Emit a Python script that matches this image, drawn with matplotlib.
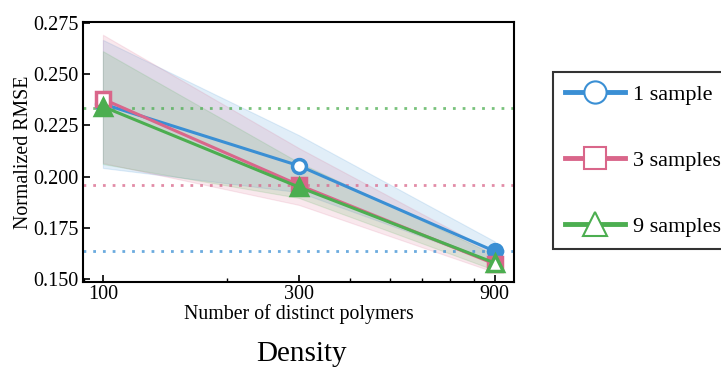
import numpy as np
import matplotlib.pyplot as plt

plt.rcParams['font.family'] = ['Liberation Serif', 'DejaVu Serif']
plt.rcParams['mathtext.fontset'] = 'stix'

# data
n_polymers = [100, 300, 900]
labels = ['1 sample', '3 samples', '9 samples']
colors = ['#3a8fd4', '#d9668a', '#4cae50']
markers = ['o', 's', '^']

mean_1 = [0.2355, 0.2054, 0.1637]
mean_3 = [0.2379, 0.1960, 0.1575]
mean_9 = [0.2342, 0.1950, 0.1580]

lo_1 = [0.2043, 0.1925, 0.1580]
hi_1 = [0.2667, 0.2203, 0.1685]
lo_3 = [0.2067, 0.1863, 0.1535]
hi_3 = [0.2692, 0.2140, 0.1630]
lo_9 = [0.2062, 0.1897, 0.1545]
hi_9 = [0.2612, 0.2070, 0.1620]

# which points are drawn hollow
hollow_1 = [False, True, False]
hollow_3 = [True, False, False]
hollow_9 = [False, False, True]

# reference levels (dotted)
ref_levels = [0.1637, 0.1960, 0.2337]

means = [mean_1, mean_3, mean_9]
los = [lo_1, lo_3, lo_9]
his = [hi_1, hi_3, hi_9]
hollows = [hollow_1, hollow_3, hollow_9]

fig = plt.figure(figsize=(7.21, 3.68), dpi=100)
ax = fig.add_axes([0.115, 0.233, 0.598, 0.706])

for c, lo, hi in zip(colors, los, his):
    ax.fill_between(n_polymers, lo, hi, color=c, alpha=0.15, lw=0.8)

for c, lev in zip(colors, ref_levels):
    ax.axhline(lev, color=c, ls=(0, (1, 2.5)), lw=2, alpha=0.75)

handles = []
for c, m, mk, hol, lab in zip(colors, means, markers, hollows, labels):
    ax.plot(n_polymers, m, color=c, lw=2.2)
    for x, y, h in zip(n_polymers, m, hol):
        ax.plot(x, y, marker=mk, ms=11 if mk == '^' else 10, mec=c, mew=2.5,
                mfc='white' if h else c, ls='none')
    hd, = ax.plot([], [], color=c, lw=3.5, marker=mk, ms=17 if mk == '^' else 16,
                  mfc='white', mec=c, mew=1.5, label=lab)
    handles.append(hd)

ax.set_xscale('log')
ax.set_xlim(89.4, 1003)
ax.set_ylim(0.1486, 0.2752)
ax.set_xticks(n_polymers)
ax.set_xticklabels([str(v) for v in n_polymers])
ax.set_yticks([0.150, 0.175, 0.200, 0.225, 0.250, 0.275])
ax.tick_params(direction='in', labelsize=14.5, length=5, width=1.2, pad=3)
ax.tick_params(axis='x', pad=2)
ax.tick_params(which='minor', direction='in', length=3, width=1)
for s in ax.spines.values():
    s.set_linewidth(1.5)

ax.set_xlabel('Number of distinct polymers', fontsize=14.3, labelpad=0)
ax.set_ylabel('Normalized RMSE', fontsize=14.3)
ax.yaxis.set_label_coords(-0.115, 0.5)

fig.text(0.418, 0.004, 'Density', fontsize=21, ha='center', va='bottom')

leg = fig.legend(handles=handles, loc='upper left',
                 bbox_to_anchor=(553 / 721, 1 - 72 / 368), fontsize=16,
                 frameon=True, fancybox=False, edgecolor='black',
                 labelspacing=2.05, handlelength=2.7, borderpad=0.55,
                 handletextpad=0.35, borderaxespad=0)
leg.get_frame().set_linewidth(1.5)

fig.savefig('out.png', dpi=100)
